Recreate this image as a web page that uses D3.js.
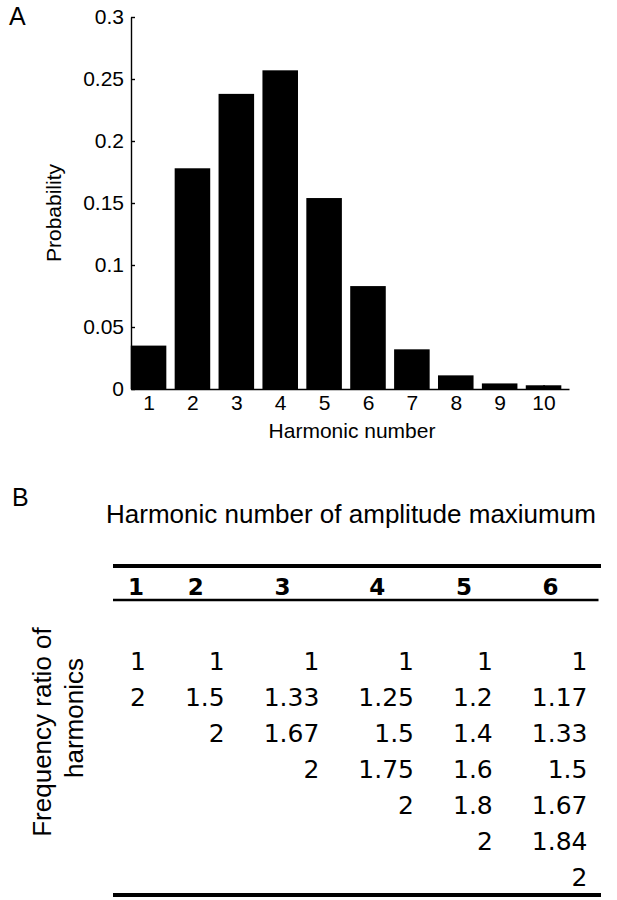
<!DOCTYPE html>
<html>
<head>
<meta charset="utf-8">
<script src="https://cdn.jsdelivr.net/npm/d3@7"></script>
<style>
  body { margin: 0; background: #fff; }
  text { fill: #000; }
</style>
</head>
<body>
<svg id="canvas" width="617" height="900"></svg>
<script>
// panel A data
let harmonics = [1, 2, 3, 4, 5, 6, 7, 8, 9, 10]
let probability = [0.035, 0.178, 0.238, 0.257, 0.154, 0.083, 0.032, 0.011, 0.0045, 0.003]
let yTicks = [0, 0.05, 0.1, 0.15, 0.2, 0.25, 0.3]

// panel B data: one list per column, top to bottom
let colHeaders = ['1', '2', '3', '4', '5', '6']
let ratioColumns = [
    ['1', '2'],
    ['1', '1.5', '2'],
    ['1', '1.33', '1.67', '2'],
    ['1', '1.25', '1.5', '1.75', '2'],
    ['1', '1.2', '1.4', '1.6', '1.8', '2'],
    ['1', '1.17', '1.33', '1.5', '1.67', '1.84', '2']
]

let canvas = d3.select('#canvas')
let sans = "'Liberation Sans', Arial, sans-serif"
let verdana = "'DejaVu Sans', Verdana, sans-serif"

// ---------- A: bar chart ----------
let xScale = d3.scaleLinear().domain([0.6, 10.58]).range([131, 569])
let yScale = d3.scaleLinear().domain([0, 0.3]).range([389, 17])
let barW = 0.81

canvas.append('text')
    .attr('x', 9).attr('y', 25)
    .style('font', `25px ${sans}`)
    .text('A')

canvas.selectAll('rect.bar')
    .data(harmonics)
    .enter()
    .append('rect')
    .attr('class', 'bar')
    .attr('x', (d) => xScale(d - barW / 2))
    .attr('width', (d) => xScale(d + barW / 2) - xScale(d - barW / 2))
    .attr('y', (d, i) => yScale(probability[i]))
    .attr('height', (d, i) => yScale(0) - yScale(probability[i]))
    .attr('fill', '#000')

let xAxis = d3.axisBottom(xScale)
    .tickValues(harmonics)
    .tickFormat(d3.format('d'))
    .tickSizeInner(-4)
    .tickSizeOuter(0)
    .tickPadding(6)

let yAxis = d3.axisLeft(yScale)
    .tickValues(yTicks)
    .tickFormat((d) => String(+d.toFixed(2)))
    .tickSizeInner(-4)
    .tickSizeOuter(0)
    .tickPadding(7)

let gx = canvas.append('g')
    .attr('transform', `translate(0,${yScale(0)})`)
    .call(xAxis)
let gy = canvas.append('g')
    .attr('transform', `translate(${xScale(0.6)},0)`)
    .call(yAxis)

for (let g of [gx, gy]) {
    g.selectAll('path, line').attr('stroke', '#000').attr('stroke-width', 1.4)
    g.selectAll('text').style('font', `21px ${sans}`).attr('fill', '#000')
}

canvas.append('text')
    .attr('x', 352).attr('y', 438)
    .attr('text-anchor', 'middle')
    .style('font', `21px ${sans}`)
    .text('Harmonic number')

canvas.append('text')
    .attr('transform', 'translate(61,213) rotate(-90)')
    .attr('text-anchor', 'middle')
    .style('font', `21px ${sans}`)
    .text('Probability')

// ---------- B: table ----------
canvas.append('text')
    .attr('x', 12).attr('y', 506)
    .style('font', `25px ${sans}`)
    .text('B')

canvas.append('text')
    .attr('x', 106).attr('y', 523)
    .style('font', `26px ${sans}`)
    .text('Harmonic number of amplitude maxiumum')

canvas.append('text')
    .attr('transform', 'translate(51,732) rotate(-90)')
    .attr('text-anchor', 'middle')
    .style('font', `26px ${sans}`)
    .text('Frequency ratio of')
canvas.append('text')
    .attr('transform', 'translate(83,718) rotate(-90)')
    .attr('text-anchor', 'middle')
    .style('font', `26px ${sans}`)
    .text('harmonics')

// measure each column's widest entry to lay the columns out right-aligned
let measure = canvas.append('text').style('font', `25px ${verdana}`)
let tableLeft = 113
let colRight = []
let colWidth = []
let cursor = tableLeft + 17
ratioColumns.forEach((col, i) => {
    let w = d3.max(col, (s) => measure.text(s).node().getComputedTextLength())
    if (i > 0) cursor += 39
    cursor += w
    colRight.push(cursor)
    colWidth.push(w)
})
measure.remove()

let rowScale = d3.scaleLinear().domain([0, 6]).range([670, 886])

// rules
let rules = [
    { y: 566, x2: 601, w: 4 },
    { y: 600, x2: 598.5, w: 2.4 },
    { y: 895, x2: 601, w: 4 }
]
canvas.selectAll('line.rule')
    .data(rules)
    .enter()
    .append('line')
    .attr('class', 'rule')
    .attr('x1', tableLeft).attr('x2', (d) => d.x2)
    .attr('y1', (d) => d.y).attr('y2', (d) => d.y)
    .attr('stroke', '#000')
    .attr('stroke-width', (d) => d.w)

canvas.selectAll('text.head')
    .data(colHeaders)
    .enter()
    .append('text')
    .attr('class', 'head')
    .attr('x', (d, i) => colRight[i] - colWidth[i] / 2 - (i === 0 ? 2 : 9))
    .attr('y', 595)
    .attr('text-anchor', 'middle')
    .style('font', `bold 23px ${verdana}`)
    .text((d) => d)

let cells = []
ratioColumns.forEach((col, c) => {
    col.forEach((v, r) => cells.push({ c: c, r: r, v: v }))
})

canvas.selectAll('text.cell')
    .data(cells)
    .enter()
    .append('text')
    .attr('class', 'cell')
    .attr('x', (d) => colRight[d.c])
    .attr('y', (d) => rowScale(d.r))
    .attr('text-anchor', 'end')
    .style('font', `25px ${verdana}`)
    .text((d) => d.v)
</script>
</body>
</html>
